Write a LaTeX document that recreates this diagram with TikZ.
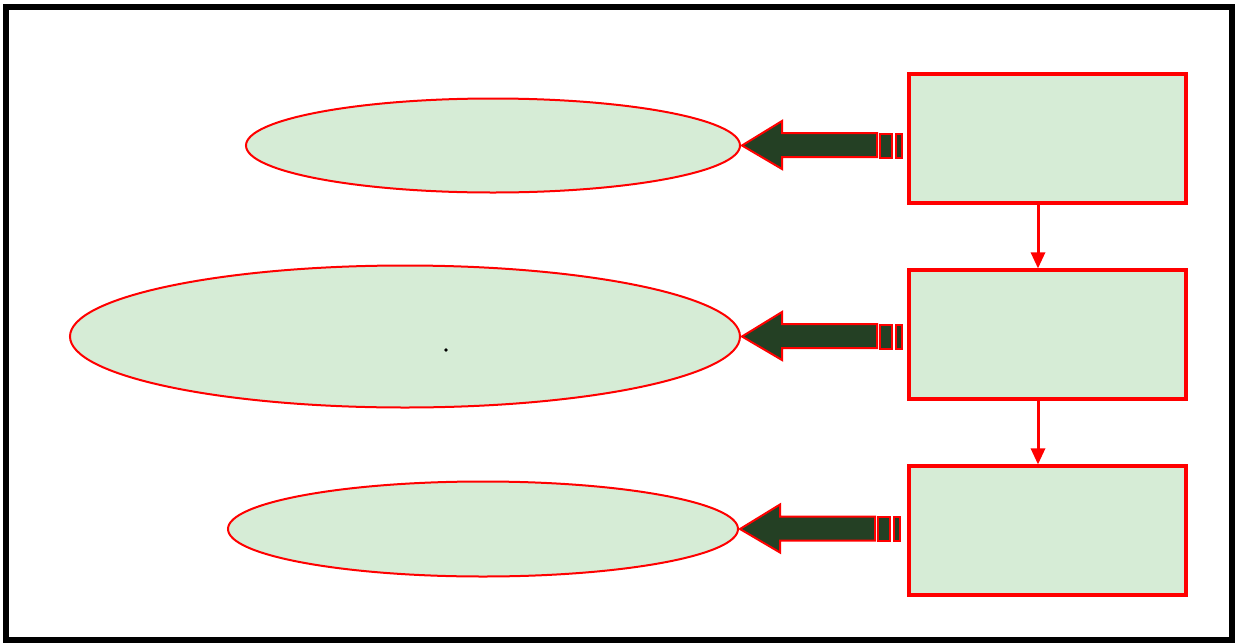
\documentclass[tikz,border=0pt]{standalone}
\usetikzlibrary{shapes.geometric,calc}
\definecolor{lightgrid}{RGB}{214,236,214}
\definecolor{darkgrid}{RGB}{36,64,36}
\definecolor{redline}{RGB}{255,0,0}
\tikzset{
  oval/.style={ellipse, draw=redline, line width=2pt, fill=lightgrid, inner sep=0pt},
  box/.style={rectangle, draw=redline, line width=3.5pt, fill=lightgrid, inner sep=0pt,
    minimum width=277pt, minimum height=129pt},
  fatarrow/.style={draw=redline, line width=2pt, fill=darkgrid, line join=miter},
  link/.style={draw=redline, line width=3pt},
}
\begin{document}
\begin{tikzpicture}[x=1pt,y=-1pt]
\useasboundingbox (0,0) rectangle (1235,643);
\draw[line width=6pt] (6,7) rectangle (1232,640);
% boxes
\node[box] (r1) at (1047.5,138.5) {};
\node[box] (r2) at (1047.5,334.5) {};
\node[box] (r3) at (1047.5,530.5) {};
% ovals
\node[oval, minimum width=494pt, minimum height=94pt] (e1) at (493,145.5) {};
\node[oval, minimum width=670pt, minimum height=142pt] (e2) at (405,336.5) {};
\node[oval, minimum width=510pt, minimum height=95pt] (e3) at (483,529) {};
\fill[black] (446,350) circle (1.8pt);
% vertical links
\foreach \a/\b in {r1/r2, r2/r3}{
  \draw[link] ($(\a.south)+(-9.5,0)$) -- ($(\b.north)+(-9.5,-14)$);
  \fill[redline] ($(\b.north)+(-9.5,0)$) -- ++(-7.5,-16) -- ++(15,0) -- cycle;
}
% fat arrows
\foreach \e in {e1, e2, e3}{
  \coordinate (t) at ($(\e.east)+(1,0)$);
  \draw[fatarrow] (t) -- ++(40,-24.5) -- ++(0,12) -- ++(95,0) -- ++(0,24) -- ++(-95,0) -- ++(0,12) -- cycle;
  \draw[fatarrow] ($(t)+(138,-12)$) rectangle ++(12,24);
  \draw[fatarrow] ($(t)+(154,-12)$) rectangle ++(6,24);
}
\end{tikzpicture}
\end{document}
